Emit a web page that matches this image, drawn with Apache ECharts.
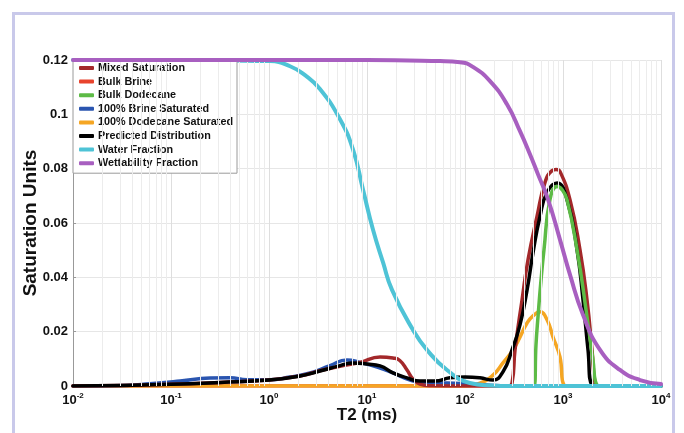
<!DOCTYPE html>
<html>
<head>
<meta charset="utf-8">
<script src="https://cdn.jsdelivr.net/npm/echarts@6/dist/echarts.min.js"></script>
<style>
  html, body { margin: 0; padding: 0; background: #fff; }
  #frame { position: absolute; left: 12px; top: 12px; width: 657px; height: 440px; border: 3px solid #c9c9ea; }
  #chart { position: absolute; left: 0; top: 0; width: 684px; height: 433px; }
</style>
</head>
<body>
<div id="frame"></div>
<div id="chart"></div>
<script>
// T2 (ms) / saturation units pairs
const mixedSaturation = [
  [0.01, 0], [0.03, 0.0002], [0.1, 0.0006], [0.316, 0.0013], [1, 0.0022], [2.07, 0.0037],
  [3.31, 0.0056], [5.3, 0.0073], [8.5, 0.0087], [13.6, 0.0107], [18.4, 0.0103], [21.6, 0.0094],
  [25.6, 0.0059], [29.4, 0.0026], [34.7, 0.0007], [44, 0.0001], [100, 0], [275, 0],
  [302, 0.0011], [324, 0.0133], [382, 0.0317], [440, 0.0465], [543, 0.0624], [655, 0.0749],
  [773, 0.0793], [850, 0.0797], [931, 0.079], [1178, 0.0686], [1489, 0.0502], [1758, 0.0317],
  [1977, 0.0133], [2122, 0.0011], [2270, 0], [10000, 0]
]
const bulkBrine = [[0.01, 0], [10000, 0]]
const bulkDodecane = [
  [400, 0], [506, 0], [530, 0.0151], [556, 0.0255], [597, 0.0391], [640, 0.0502],
  [736, 0.0686], [869, 0.0734], [977, 0.0723], [1099, 0.0686], [1390, 0.0502],
  [1758, 0.0255], [2023, 0.0096], [2223, 0.0004], [2500, 0]
]
const brineSaturated = [
  [0.01, 0], [0.0356, 0.0002], [0.061, 0.0008], [0.124, 0.0018], [0.25, 0.0029], [0.4, 0.003],
  [0.597, 0.0023], [1, 0.0023], [1.64, 0.0033], [2.62, 0.0048], [4.19, 0.0075], [6.25, 0.0096],
  [8.49, 0.0087], [13.6, 0.0066], [18.4, 0.0048], [27.5, 0.0022], [40.9, 0.0011], [65.5, 0.0011],
  [112, 0.0007], [180, 0.0003], [300, 0]
]
const dodecaneSaturated = [
  [0.01, 0], [100, 0], [142, 0.0011], [193, 0.004], [244, 0.0085], [309, 0.0133], [364, 0.018],
  [430, 0.0232], [494, 0.0258], [582, 0.0273], [687, 0.0244], [791, 0.018], [931, 0.0107],
  [1023, 0.0004], [1150, 0], [10000, 0]
]
const predictedDistribution = [
  [0.01, 0], [0.03, 0.0002], [0.1, 0.0006], [0.316, 0.0013], [1, 0.0022], [2.07, 0.0037],
  [3.31, 0.0055], [5.3, 0.0075], [7.19, 0.0085], [10, 0.0081], [13.6, 0.0074], [18.4, 0.0048],
  [25.6, 0.003], [34.7, 0.0018], [49.4, 0.0018], [70.3, 0.003], [100, 0.0033], [142, 0.003],
  [193, 0.0022], [244, 0.0052], [302, 0.0133], [364, 0.0225], [430, 0.0354], [494, 0.049],
  [582, 0.0624], [687, 0.0712], [869, 0.0747], [1099, 0.0686], [1390, 0.0502], [1600, 0.0317],
  [1800, 0.0133], [1977, 0.0004], [2387, 0], [10000, 0]
]
const waterFraction = [
  [0.01, 0.12], [0.124, 0.12], [0.4, 0.1198], [1.02, 0.1196], [1.64, 0.1177], [2.33, 0.1144],
  [3.31, 0.1093], [5.3, 0.0982], [7.19, 0.0871], [9.1, 0.0723], [11.5, 0.0576], [14.6, 0.0454],
  [18, 0.0354], [29.4, 0.0207], [40.9, 0.0133], [65.5, 0.0059], [112, 0.0011], [180, 0.0002],
  [300, 0], [10000, 0]
]
const wettabilityFraction = [
  [0.01, 0.12], [10, 0.12], [55.6, 0.1196], [89, 0.1192], [121, 0.1174], [180, 0.1122],
  [268, 0.1037], [364, 0.0938], [460, 0.0853], [556, 0.0779], [703, 0.0687], [931, 0.0539],
  [1178, 0.041], [1600, 0.0262], [2387, 0.0133], [3817, 0.0059], [6107, 0.0022], [10000, 0.0007]
]

const xMin = 0.01
const xMax = 10000
const yTicks = [0, 0.02, 0.04, 0.06, 0.08, 0.1, 0.12]

// minor log grid lines (2..9 x 10^k)
const minorGrid = []
for (let e = -2; e < 4; e++) {
  for (let m = 2; m <= 9; m++) minorGrid.push({ xAxis: m * Math.pow(10, e) })
}

const font = '"Liberation Sans", Arial, sans-serif'
const chart = echarts.init(document.getElementById('chart'))

function line(name, data, color, width, z) {
  return {
    name,
    type: 'line',
    data,
    z: z || 2,
    showSymbol: false,
    smooth: true,
    lineStyle: { color, width: width || 3.5, join: 'round', cap: 'round' },
    itemStyle: { color },
    silent: true
  }
}

const option = {
  animation: false,
  grid: { left: 73, right: 23, top: 60, bottom: 47, outerBoundsMode: 'none' },
  legend: {
    orient: 'vertical',
    left: 73,
    top: 59,
    padding: [3, 4, 4, 6],
    itemGap: 1.6,
    itemWidth: 15,
    itemHeight: 4,
    icon: 'roundRect',
    backgroundColor: '#fff',
    borderColor: '#9a9a9a',
    borderWidth: 1,
    textStyle: { fontFamily: font, fontWeight: 'bold', fontSize: 10.8, color: '#111', padding: [0, 0, 0, -1], lineHeight: 12 },
    data: ['Mixed Saturation', 'Bulk Brine', 'Bulk Dodecane', '100% Brine Saturated',
      '100% Dodecane Saturated', 'Predicted Distribution', 'Water Fraction', 'Wettability Fraction']
  },
  xAxis: {
    type: 'log',
    logBase: 10,
    min: xMin,
    max: xMax,
    name: 'T2 (ms)',
    nameLocation: 'middle',
    nameGap: 21,
    nameMoveOverlap: false,
    nameTextStyle: { fontFamily: font, fontWeight: 'bold', fontSize: 17, color: '#111' },
    axisLine: { lineStyle: { color: '#777' } },
    axisTick: { show: false },
    splitLine: { show: true, lineStyle: { color: '#dedede' } },
    axisLabel: {
      margin: 6,
      formatter: v => '{b|10}{s|' + Math.round(Math.log10(v)) + '}',
      rich: {
        b: { fontFamily: font, fontWeight: 'bold', fontSize: 13, color: '#111' },
        s: { fontFamily: font, fontWeight: 'bold', fontSize: 8, color: '#111', padding: [0, 0, 8, 0] }
      }
    }
  },
  yAxis: {
    type: 'value',
    min: yTicks[0],
    max: yTicks[yTicks.length - 1],
    interval: 0.02,
    name: 'Saturation Units',
    nameLocation: 'middle',
    nameGap: 33,
    nameMoveOverlap: false,
    nameTextStyle: { fontFamily: font, fontWeight: 'bold', fontSize: 19, color: '#111' },
    axisLine: { show: true, lineStyle: { color: '#999' } },
    axisTick: { show: true, length: 3, inside: true, lineStyle: { color: '#999' } },
    splitLine: { show: true, lineStyle: { color: '#e6e6e6' } },
    axisLabel: { fontFamily: font, fontWeight: 'bold', fontSize: 13, color: '#111', margin: 5 }
  },
  series: [
    {
      type: 'line',
      data: [],
      silent: true,
      markLine: {
        silent: true,
        symbol: 'none',
        label: { show: false },
        lineStyle: { color: '#ececec', width: 1, type: 'solid' },
        data: minorGrid
      }
    },
    line('Bulk Brine', bulkBrine, '#e8432d'),
    line('100% Dodecane Saturated', dodecaneSaturated, '#f5a623'),
    line('100% Brine Saturated', brineSaturated, '#2a55b0'),
    line('Mixed Saturation', mixedSaturation, '#a3282a'),
    line('Predicted Distribution', predictedDistribution, '#000000'),
    line('Bulk Dodecane', bulkDodecane, '#5dbb46'),
    line('Water Fraction', waterFraction, '#4ec3d6', 4),
    line('Wettability Fraction', wettabilityFraction, '#a85fc0', 4, 5)
  ]
}

chart.setOption(option)
</script>
</body>
</html>
